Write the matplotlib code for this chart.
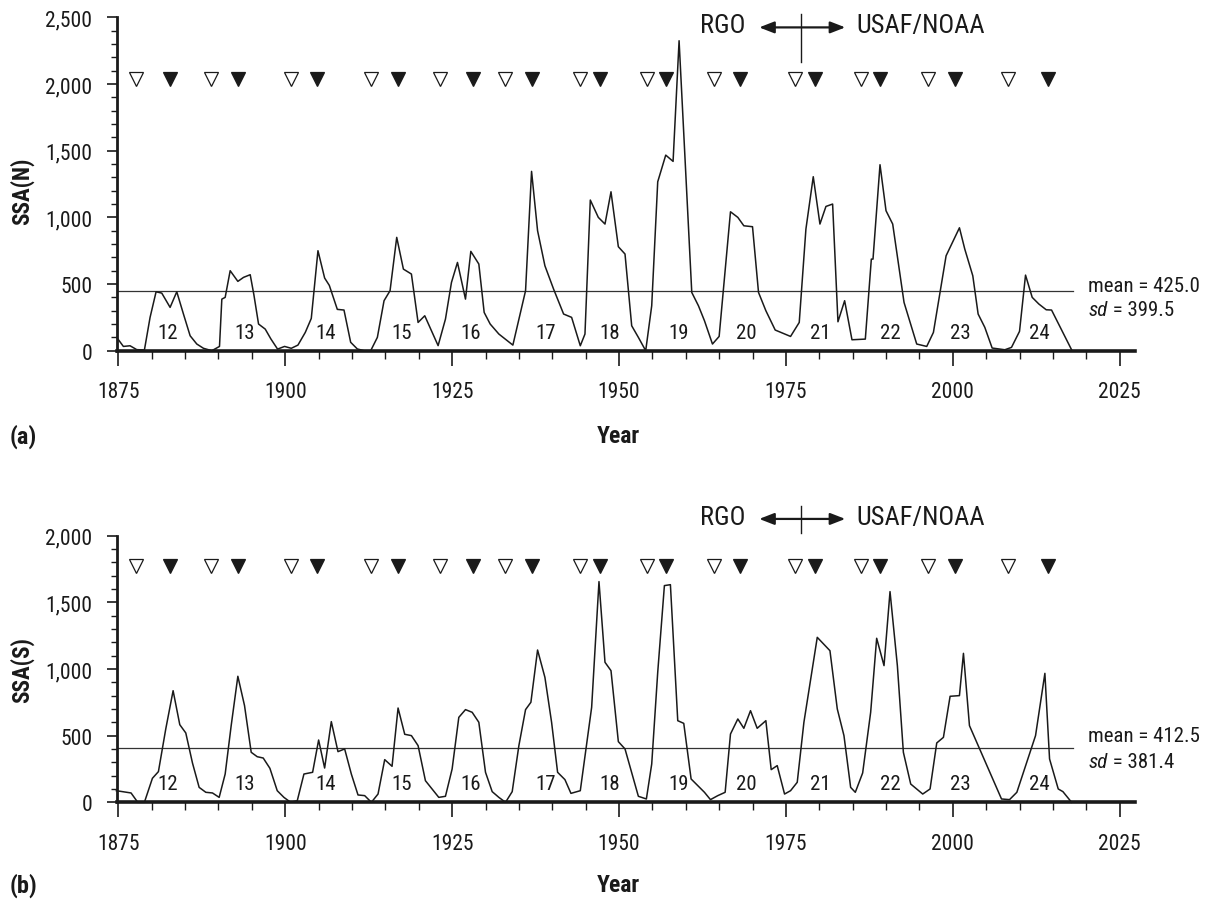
import matplotlib
matplotlib.use("Agg")
import matplotlib.pyplot as plt
from matplotlib import font_manager
from matplotlib.ticker import MultipleLocator, FuncFormatter

# ---- font choice: a narrow sans like the reference, with safe fallbacks ----
_fonts = font_manager.fontManager.ttflist
_names = {f.name for f in _fonts}
_pref = ['Liberation Sans Narrow', 'Arial Narrow', 'Roboto Condensed', 'Pragati Narrow',
         'PT Sans Narrow', 'Archivo Narrow']
FAM = next((n for n in _pref if n in _names), 'Liberation Sans')
_has_bold = any(f.name == FAM and str(f.weight) in ('700', 'bold') for f in _fonts)
BOLD_FAM = FAM if _has_bold else 'Liberation Sans'
_has_it = any(f.name == FAM and f.style == 'italic' for f in _fonts)
IT_FAM = FAM if _has_it else 'Liberation Sans'
plt.rcParams['font.family'] = [FAM, 'DejaVu Sans']

# ---------------- data ----------------
years_n = [1874.75, 1875.75, 1876.75, 1877.75, 1878.9, 1879.75, 1880.65, 1881.5, 1882.75, 1883.75,
           1884.75, 1885.75, 1886.75, 1887.75, 1889.0, 1890.15, 1890.5, 1891.0, 1891.75, 1892.9,
           1893.75, 1894.75, 1895.3, 1896.0, 1897.0, 1897.85, 1898.85, 1899.9, 1900.9, 1901.9,
           1903.0, 1903.9, 1904.9, 1905.9, 1906.6, 1907.8, 1908.8, 1909.8, 1910.8, 1911.8,
           1912.8, 1913.8, 1914.8, 1915.7, 1916.7, 1917.7, 1918.9, 1919.9, 1920.9, 1921.9,
           1922.9, 1924.0, 1924.9, 1925.8, 1927.0, 1927.8, 1929.0, 1929.8, 1930.7, 1932.0,
           1934.1, 1936.0, 1936.9, 1937.8, 1938.9, 1940.2, 1941.7, 1942.9, 1944.2, 1944.9,
           1945.7, 1946.9, 1947.9, 1948.8, 1949.9, 1950.9, 1951.9, 1952.9, 1954.0, 1954.9,
           1955.8, 1957.0, 1958.1, 1959.0, 1960.9, 1961.9, 1962.8, 1964.0, 1965.0, 1966.7,
           1967.8, 1968.7, 1970.0, 1970.9, 1972.0, 1973.4, 1975.7, 1977.0, 1978.0, 1979.1,
           1980.1, 1981.0, 1982.0, 1982.8, 1983.8, 1984.9, 1986.9, 1987.8, 1988.05, 1989.1,
           1990.0, 1991.0, 1992.7, 1994.6, 1996.1, 1997.1, 1998.1, 1999.0, 2001.0, 2001.8,
           2003.0, 2003.8, 2004.8, 2005.9, 2007.8, 2008.8, 2010.0, 2010.9, 2011.9, 2012.9,
           2014.0, 2014.8, 2017.8]
ssa_n = [100, 32, 37, 8, 5, 250, 442, 432, 325, 442,
         275, 112, 50, 18, 0, 32, 387, 400, 600, 520,
         550, 570, 420, 200, 162, 88, 12, 32, 18, 42,
         137, 242, 750, 545, 490, 310, 305, 63, 13, 0,
         0, 100, 375, 450, 850, 612, 575, 212, 262, 150,
         38, 237, 512, 662, 387, 745, 650, 287, 200, 125,
         42, 450, 1345, 900, 637, 462, 275, 250, 37, 125,
         1130, 1000, 950, 1192, 780, 725, 187, 100, 0, 337,
         1267, 1467, 1420, 2325, 437, 337, 225, 50, 107, 1042,
         1000, 937, 930, 437, 300, 155, 107, 212, 912, 1305,
         950, 1082, 1100, 217, 375, 82, 87, 687, 687, 1395,
         1050, 950, 362, 50, 32, 137, 437, 712, 922, 762,
         562, 275, 175, 20, 7, 25, 145, 567, 400, 350,
         307, 305, 7]

years_s = [1874.7, 1876.2, 1876.9, 1877.9, 1878.9, 1880.1, 1881.0, 1882.1, 1883.2, 1884.2,
           1885.1, 1886.1, 1887.1, 1888.1, 1889.1, 1890.1, 1891.0, 1891.9, 1892.9, 1893.9,
           1894.9, 1895.8, 1896.7, 1897.7, 1898.8, 1899.8, 1900.8, 1901.8, 1902.8, 1904.1,
           1905.0, 1905.9, 1906.9, 1907.9, 1908.9, 1909.9, 1910.9, 1911.9, 1912.9, 1913.9,
           1914.9, 1916.0, 1916.9, 1917.9, 1918.9, 1919.9, 1921.0, 1922.0, 1923.0, 1924.0,
           1925.0, 1926.0, 1927.0, 1928.0, 1929.0, 1930.0, 1931.0, 1932.0, 1933.0, 1934.0,
           1935.0, 1936.0, 1936.8, 1937.8, 1938.9, 1939.9, 1940.8, 1941.9, 1942.8, 1944.2,
           1945.9, 1947.0, 1947.9, 1948.8, 1949.9, 1950.9, 1952.9, 1954.1, 1954.9, 1955.8,
           1956.8, 1957.7, 1958.8, 1959.7, 1960.8, 1962.8, 1963.7, 1964.8, 1965.9, 1966.7,
           1967.8, 1968.7, 1969.7, 1970.7, 1972.0, 1972.8, 1973.7, 1974.8, 1975.7, 1976.7,
           1977.7, 1979.7, 1981.6, 1982.7, 1983.7, 1984.7, 1985.4, 1986.5, 1987.7, 1988.6,
           1989.7, 1990.6, 1991.7, 1992.6, 1993.7, 1995.5, 1996.6, 1997.6, 1998.6, 1999.6,
           2001.0, 2001.6, 2002.5, 2007.3, 2008.5, 2009.6, 2012.4, 2013.8, 2014.5, 2015.8,
           2016.5, 2017.8]
ssa_s = [87, 75, 70, 0, 0, 180, 230, 550, 837, 582,
         520, 295, 112, 75, 70, 37, 212, 575, 945, 725,
         375, 342, 332, 255, 87, 37, 0, 12, 212, 225,
         467, 257, 605, 380, 400, 212, 55, 50, 0, 62,
         320, 270, 707, 510, 500, 425, 162, 100, 37, 45,
         250, 637, 695, 675, 600, 225, 80, 37, 0, 80,
         425, 695, 750, 1142, 937, 600, 225, 170, 67, 87,
         712, 1655, 1050, 987, 455, 400, 45, 25, 287, 975,
         1625, 1632, 612, 592, 175, 75, 20, 50, 75, 512,
         625, 555, 687, 555, 612, 245, 275, 62, 87, 150,
         600, 1237, 1137, 700, 500, 112, 75, 220, 675, 1230,
         1025, 1580, 1025, 375, 137, 62, 100, 445, 487, 795,
         800, 1117, 575, 25, 20, 75, 500, 967, 325, 100,
         80, 0]

cycle_numbers = ['12', '13', '14', '15', '16', '17', '18', '19', '20', '21', '22', '23', '24']
cycle_label_years = [1882.4, 1893.9, 1906.0, 1917.5, 1927.8, 1939.0, 1948.6, 1958.9, 1969.0,
                     1980.2, 1990.6, 2001.1, 2013.0]
min_years = [1877.6, 1888.9, 1900.9, 1912.9, 1923.2, 1932.9, 1944.2, 1954.2, 1964.2, 1976.4,
             1986.2, 1996.3, 2008.2]
max_years = [1882.8, 1892.9, 1904.8, 1916.9, 1928.2, 1936.9, 1947.1, 1957.1, 1968.2, 1979.4,
             1989.1, 2000.3, 2014.2]
transition_year = 1977.3
mean_n, sd_n, mean_line_n = 425.0, 399.5, 445
mean_s, sd_s, mean_line_s = 412.5, 381.4, 408

# ---------------- figure ----------------
W, H = 1206, 904
fig = plt.figure(figsize=(W / 100, H / 100), dpi=100)

def fx(px):
    return px / W

def fy(py):
    return 1 - py / H

X0, X1 = 1874.75, 2027.3
ax_a = fig.add_axes([fx(116.7), fy(351.7), fx(1135 - 116.7), (351.7 - 18.4) / H])
ax_b = fig.add_axes([fx(116.7), fy(803.3), fx(1135 - 116.7), (803.3 - 536.6) / H])

TICK_FS = 15.5
STAT_FS = 15
INK = '#1a1a1a'
comma = FuncFormatter(lambda v, p: f"{int(v):,}")

def style(ax, ytop, years, vals, mean_line, mean, sd, tri_y, lab_y, mean_y, sd_y, top_y,
          vtop, vbot, ylabel, tag, label_py, tag_py):
    ax.set_xlim(X0, X1)
    ax.set_ylim(0, ytop)
    for s in ('top', 'right'):
        ax.spines[s].set_visible(False)
    ax.spines['left'].set_linewidth(2.0)
    ax.spines['bottom'].set_linewidth(2.6)
    ax.spines['left'].set_color(INK)
    ax.spines['bottom'].set_color(INK)
    ax.xaxis.set_major_locator(MultipleLocator(25))
    ax.xaxis.set_minor_locator(MultipleLocator(5))
    ax.yaxis.set_major_locator(MultipleLocator(500))
    ax.yaxis.set_minor_locator(MultipleLocator(100))
    ax.yaxis.set_major_formatter(comma)
    ax.tick_params(axis='both', which='both', color=INK, labelcolor=INK)
    ax.tick_params(axis='x', which='major', length=11, width=1.2, pad=11, labelsize=TICK_FS)
    ax.tick_params(axis='x', which='minor', length=5.5, width=1.0)
    ax.tick_params(axis='y', which='major', length=7.5, width=1.2, pad=10, labelsize=TICK_FS)
    ax.tick_params(axis='y', which='minor', length=4, width=1.0)

    ax.plot(years, vals, color=INK, lw=1.1, clip_on=False, zorder=3)
    ax.plot([X0, 2018.0], [mean_line, mean_line], color='#333333', lw=0.9, zorder=2)

    ax.plot(min_years, [tri_y] * len(min_years), linestyle='none', marker='v', ms=9.5,
            mfc='white', mec=INK, mew=0.9, clip_on=False)
    ax.plot(max_years, [tri_y] * len(max_years), linestyle='none', marker='v', ms=9.5,
            mfc=INK, mec=INK, mew=0.9, clip_on=False)

    for n, yr in zip(cycle_numbers, cycle_label_years):
        ax.text(yr, lab_y, n, ha='center', va='center', fontsize=15, color=INK)

    ax.text(2020.3, mean_y, f"mean = {mean:.1f}", ha='left', va='center', fontsize=STAT_FS,
            color=INK)
    t = ax.text(2020.3, sd_y, "sd", ha='left', va='center', fontsize=STAT_FS,
                style='italic', family=[IT_FAM, 'DejaVu Sans'], color=INK)
    ax.annotate(f" = {sd:.1f}", xy=(1, 0.5), xycoords=t, xytext=(0, 0),
                textcoords='offset points', ha='left', va='center', fontsize=STAT_FS,
                color=INK)

    # RGO / USAF/NOAA annotation
    ax.text(1969.0, top_y, "RGO", ha='right', va='center', fontsize=19, color=INK)
    ax.text(1985.6, top_y, "USAF/NOAA", ha='left', va='center', fontsize=19, color=INK)
    ax.annotate('', xy=(1971.0, top_y - 15), xytext=(1983.9, top_y - 15),
                arrowprops=dict(arrowstyle='<|-|>,head_length=0.9,head_width=0.35',
                                color=INK, lw=1.6, shrinkA=0, shrinkB=0),
                annotation_clip=False)
    ax.plot([transition_year, transition_year], [vbot, vtop], color=INK, lw=1.0,
            clip_on=False)

    fig.text(fx(22), fy(label_py), ylabel, rotation=90, ha='center',
             va='center', fontsize=16.5, fontweight='bold', family=[BOLD_FAM, 'DejaVu Sans'],
             color=INK)
    fig.text(fx(618), fy(tag_py), "Year", ha='center', va='center', fontsize=17,
             fontweight='bold', family=[BOLD_FAM, 'DejaVu Sans'], color=INK)
    fig.text(fx(10), fy(tag_py), tag, ha='left', va='center', fontsize=17.5, fontweight='bold',
             family=[BOLD_FAM, 'DejaVu Sans'], color=INK)

style(ax_a, 2500, years_n, ssa_n, mean_line_n, mean_n, sd_n, 2040, 140, 490, 308, 2440,
      2525, 2165, "SSA(N)", "(a)", 191, 437)
style(ax_b, 2000, years_s, ssa_s, mean_line_s, mean_s, sd_s, 1770, 140, 500, 305, 2140,
      2225, 2020, "SSA(S)", "(b)", 670, 886)

fig.savefig("out.png", dpi=100)
